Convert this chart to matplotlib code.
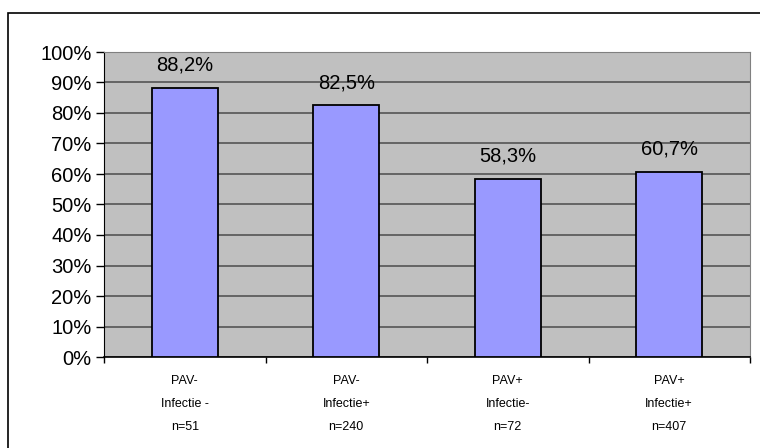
import matplotlib.pyplot as plt
import matplotlib.patches as patches
from matplotlib.ticker import FuncFormatter

# Data
categories = ["PAV-\nInfectie -\nn=51", "PAV-\nInfectie+\nn=240",
              "PAV+\nInfectie-\nn=72", "PAV+\nInfectie+\nn=407"]
values = [88.2, 82.5, 58.3, 60.7]
value_labels = ["88,2%", "82,5%", "58,3%", "60,7%"]

plt.rcParams['font.family'] = ['Liberation Sans', 'DejaVu Sans']

fig = plt.figure(figsize=(7.6, 4.48), dpi=100)
ax = fig.add_axes([104 / 760, 1 - 357 / 448, 646 / 760, 305 / 448])

# Outer chart frame (runs off the right and bottom edges)
frame = patches.Rectangle((8 / 760, -0.1), 1.2, 1 - 13 / 448 + 0.1,
                          transform=fig.transFigure, fill=False,
                          edgecolor='black', linewidth=1.2, clip_on=False)
fig.patches.append(frame)

ax.set_facecolor('#c0c0c0')
x = list(range(len(categories)))
ax.bar(x, values, width=0.41, color='#9999ff', edgecolor='black',
       linewidth=1.3, zorder=3)

for xi, v, lab in zip(x, values, value_labels):
    ax.annotate(lab, (xi, v), xytext=(0, 9.5), textcoords='offset points',
                ha='center', va='bottom', fontsize=14.5, zorder=4)

ax.set_ylim(0, 100)
ax.set_xlim(-0.5, 3.5)
ax.set_yticks(range(0, 101, 10))
ax.yaxis.set_major_formatter(FuncFormatter(lambda v, p: f"{int(v)}%"))
ax.grid(axis='y', color='#555555', linewidth=1.2, zorder=1)
ax.tick_params(axis='y', length=6, width=1, labelsize=14.5, pad=3)

# category boundaries as ticks, labels centered
ax.set_xticks([-0.5, 0.5, 1.5, 2.5, 3.5])
ax.set_xticklabels([])
ax.set_xticks(x, minor=True)
ax.set_xticklabels(categories, minor=True, fontsize=9, linespacing=2.2)
ax.tick_params(axis='x', which='major', length=4, width=1)
ax.tick_params(axis='x', which='minor', length=0, pad=13)

for side in ['top', 'right']:
    ax.spines[side].set_color('#808080')
ax.spines['left'].set_color('black')
ax.spines['bottom'].set_color('black')
ax.spines['bottom'].set_linewidth(1.2)
ax.set_axisbelow(True)

fig.savefig('out.png', dpi=100)
